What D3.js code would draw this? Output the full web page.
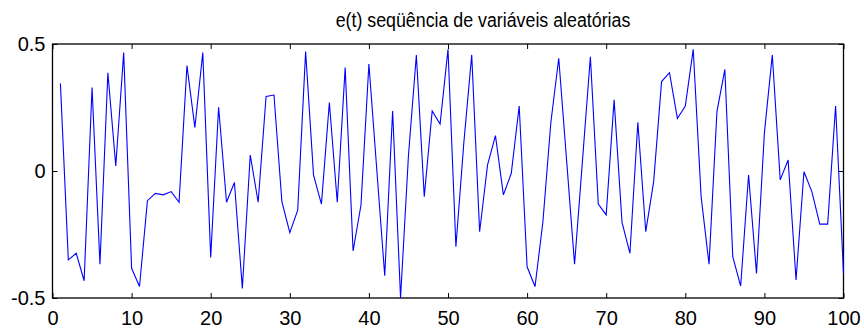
<!DOCTYPE html>
<html>
<head>
<meta charset="utf-8">
<script src="https://cdn.jsdelivr.net/npm/d3@7"></script>
<style>
  html, body { margin: 0; padding: 0; background: #fff; }
  svg { display: block; font-family: "Liberation Sans", Arial, sans-serif; }
</style>
</head>
<body>
<svg id="chart" width="864" height="333"></svg>
<script>
// e(t): sequence of 100 random samples, t = 1..100
const t = d3.range(1, 101);
const e = [
   0.345, -0.350, -0.324, -0.432,  0.329, -0.367,  0.387,  0.020,  0.466, -0.383,
  -0.455, -0.117, -0.088, -0.094, -0.081, -0.123,  0.415,  0.171,  0.466, -0.340,
   0.251, -0.123, -0.045, -0.462,  0.063, -0.123,  0.293,  0.299, -0.121, -0.243,
  -0.154,  0.470, -0.016, -0.130,  0.270, -0.123,  0.407, -0.315, -0.134,  0.421,
   0.004, -0.412,  0.236, -0.500,  0.060,  0.457, -0.101,  0.236,  0.185,  0.479,
  -0.298,  0.110,  0.457, -0.239,  0.024,  0.139, -0.094, -0.009,  0.256, -0.377,
  -0.455, -0.200,  0.190,  0.444,  0.040, -0.367,  0.040,  0.450, -0.130, -0.173,
   0.280, -0.202, -0.324,  0.192, -0.239, -0.042,  0.352,  0.387,  0.207,  0.256,
   0.479, -0.101, -0.367,  0.234,  0.400, -0.337, -0.453, -0.016, -0.403,  0.150,
   0.457, -0.035,  0.043, -0.429, -0.003, -0.081, -0.209, -0.209,  0.256, -0.403
];
const xTicks = [0, 10, 20, 30, 40, 50, 60, 70, 80, 90, 100];
const yTicks = [-0.5, 0, 0.5];
const yTickLabels = ["-0.5", "0", "0.5"];
const title = "e(t) seqüência de variáveis aleatórias";

const svg = d3.select("#chart");
const box = { left: 52.5, right: 843.5, top: 44, bottom: 298 };

const x = d3.scaleLinear().domain([0, 100]).range([box.left, box.right]);
const y = d3.scaleLinear().domain([-0.5, 0.5]).range([box.bottom, box.top]);

const tickLen = 5;
const labelStyle = sel => sel.selectAll("text")
  .attr("fill", "#000").style("font-size", "20px");

// bottom axis with labels, top axis ticks only
const gx = svg.append("g").attr("transform", `translate(0,${box.bottom})`)
  .call(d3.axisBottom(x).tickValues(xTicks).tickSizeInner(-tickLen).tickSizeOuter(0).tickPadding(13).tickFormat(d3.format("d")));
gx.call(labelStyle);
svg.append("g").attr("transform", `translate(0,${box.top})`)
  .call(d3.axisTop(x).tickValues(xTicks).tickSizeInner(-tickLen).tickSizeOuter(0).tickFormat(""));

// left axis with labels, right axis ticks only
const gy = svg.append("g").attr("transform", `translate(${box.left},0)`)
  .call(d3.axisLeft(y).tickValues(yTicks).tickSizeInner(-tickLen).tickSizeOuter(0).tickPadding(7)
    .tickFormat((d, i) => yTickLabels[i]));
gy.call(labelStyle);
svg.append("g").attr("transform", `translate(${box.right},0)`)
  .call(d3.axisRight(y).tickValues(yTicks).tickSizeInner(-tickLen).tickSizeOuter(0).tickFormat(""));

svg.selectAll(".domain").remove();
svg.selectAll(".tick line").attr("stroke", "#000").attr("stroke-width", 1);

// axes box
svg.append("rect")
  .attr("x", box.left).attr("y", box.top)
  .attr("width", box.right - box.left).attr("height", box.bottom - box.top)
  .attr("fill", "none").attr("stroke", "#000").attr("stroke-width", 1.3);

// the series
const line = d3.line().x((d, i) => x(t[i])).y(d => y(d));
svg.append("path")
  .datum(e)
  .attr("d", line)
  .attr("fill", "none")
  .attr("stroke", "#0000ff")
  .attr("stroke-width", 1.1)
  .attr("stroke-linejoin", "miter");

// title, slightly condensed horizontally
svg.append("text")
  .attr("transform", "translate(483,27) scale(0.89,1)")
  .attr("text-anchor", "middle")
  .style("font-size", "20px")
  .attr("fill", "#000")
  .text(title);
</script>
</body>
</html>
